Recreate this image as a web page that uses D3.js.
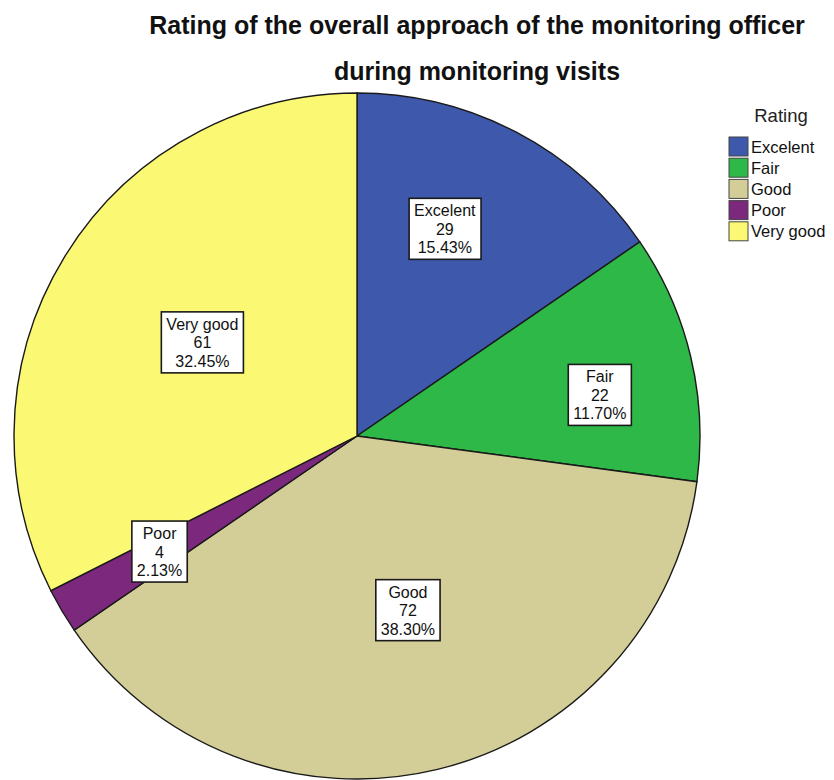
<!DOCTYPE html>
<html>
<head>
<meta charset="utf-8">
<script src="https://cdn.jsdelivr.net/npm/d3@7"></script>
<style>
  body { margin: 0; background: #fff; }
  text { font-family: "Liberation Sans", Arial, sans-serif; }
</style>
</head>
<body>
<div id="chart"></div>
<script>
// chart values
const categories = ["Excelent", "Fair", "Good", "Poor", "Very good"];
const counts = [29, 22, 72, 4, 61];
const percents = ["15.43%", "11.70%", "38.30%", "2.13%", "32.45%"];
const colors = ["#3e58ac", "#2eb848", "#d3ce97", "#7c287d", "#fbf873"];
const titleLines = ["Rating of the overall approach of the monitoring officer", "during monitoring visits"];

// where SPSS put each label box: share of the radius, and turn from the slice middle (deg)
const labelRadius = [0.656, 0.718, 0.529, 0.667, 0.527];
const labelTurn = [-4.8, 3.8, -2.9, 0.3, -0.4];

const svgWidth = 834;
const svgHeight = 780;
const cx = 357, cy = 436, radius = 343;

const svg = d3.select("#chart")
  .append("svg")
  .attr("width", svgWidth)
  .attr("height", svgHeight);

// title
svg.selectAll(".title")
  .data(titleLines)
  .enter()
  .append("text")
  .attr("class", "title")
  .attr("x", 477)
  .attr("y", (d, i) => 34 + i * 46)
  .attr("text-anchor", "middle")
  .attr("font-size", "25px")
  .attr("font-weight", "bold")
  .attr("fill", "#111")
  .text(d => d);

const rows = categories.map((c, i) => ({ name: c, value: counts[i], pct: percents[i], i: i }));

const pie = d3.pie().sort(null).value(d => d.value);
const arc = d3.arc().innerRadius(0).outerRadius(radius);

const chartGroup = svg.append("g")
  .attr("transform", `translate(${cx}, ${cy})`);

const arcs = pie(rows);

chartGroup.selectAll("path")
  .data(arcs)
  .enter()
  .append("path")
  .attr("d", arc)
  .attr("fill", d => colors[d.data.i])
  .attr("stroke", "#1a1a1a")
  .attr("stroke-width", 1.4);

// label boxes
const labels = chartGroup.selectAll(".lbl")
  .data(arcs)
  .enter()
  .append("g")
  .attr("class", "lbl")
  .attr("transform", d => {
    const a = (d.startAngle + d.endAngle) / 2 + labelTurn[d.data.i] * Math.PI / 180;
    const r = radius * labelRadius[d.data.i];
    return `translate(${Math.sin(a) * r}, ${-Math.cos(a) * r})`;
  });

labels.each(function (d) {
  const g = d3.select(this);
  const inner = g.append("g");
  const lines = [d.data.name, String(d.data.value), d.data.pct];
  const t = inner.append("text")
    .attr("text-anchor", "middle")
    .attr("font-size", "16px")
    .attr("fill", "#111");
  lines.forEach((l, k) => {
    t.append("tspan")
      .attr("x", 0)
      .attr("y", k * 18.5)
      .text(l);
  });
  const bb = t.node().getBBox();
  const box = { x: bb.x - 5, y: bb.y - 4, w: bb.width + 10, h: bb.height + 7 };
  inner.insert("rect", "text")
    .attr("x", box.x)
    .attr("y", box.y)
    .attr("width", box.w)
    .attr("height", box.h)
    .attr("fill", "#fff")
    .attr("stroke", "#1a1a1a")
    .attr("stroke-width", 1.6);
  // center the box on the anchor point
  inner.attr("transform", `translate(0, ${-(box.y + box.h / 2)})`);
});

// legend
const legend = svg.append("g")
  .attr("transform", "translate(729, 0)");

legend.append("text")
  .attr("x", 52)
  .attr("y", 122)
  .attr("text-anchor", "middle")
  .attr("font-size", "18.5px")
  .attr("fill", "#222")
  .text("Rating");

const items = legend.selectAll(".item")
  .data(categories)
  .enter()
  .append("g")
  .attr("class", "item")
  .attr("transform", (d, i) => `translate(0, ${137 + i * 21.2})`);

items.append("rect")
  .attr("width", 19)
  .attr("height", 19)
  .attr("fill", (d, i) => colors[i])
  .attr("stroke", "#444")
  .attr("stroke-width", 1);

items.append("text")
  .attr("x", 22)
  .attr("y", 15.5)
  .attr("font-size", "16.5px")
  .attr("fill", "#111")
  .text(d => d);
</script>
</body>
</html>
